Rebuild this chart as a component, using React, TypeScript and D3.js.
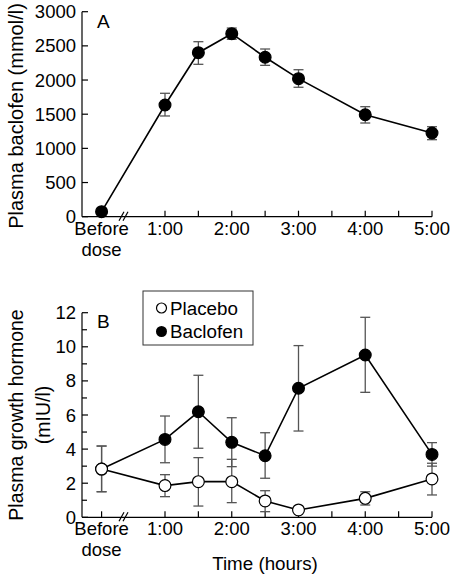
import React from "react";
import * as d3 from "d3";

// x positions in hours (Before dose placed just left of the break)
const timeLabels = ["Before\ndose", "1:00", "1:30", "2:00", "2:30", "3:00", "4:00", "5:00"];
const timeHours = [0.05, 1, 1.5, 2, 2.5, 3, 4, 5];
const xTickHours = [0.05, 1, 1.5, 2, 2.5, 3, 3.5, 4, 4.5, 5];
const xLabelHours = [1, 2, 3, 4, 5];
const xLabelText = ["1:00", "2:00", "3:00", "4:00", "5:00"];

// Panel A: plasma baclofen
const baclofenMean = [73, 1635, 2400, 2678, 2333, 2020, 1492, 1225];
const baclofenLow = [73, 1474, 2230, 2596, 2215, 1894, 1371, 1127];
const baclofenHigh = [73, 1806, 2561, 2761, 2454, 2151, 1610, 1317];
const yTicksA = [0, 500, 1000, 1500, 2000, 2500, 3000];

// Panel B: growth hormone
const ghBacMean = [2.83, 4.57, 6.19, 4.4, 3.61, 7.57, 9.52, 3.69];
const ghBacLow = [1.5, 3.2, 4.05, 2.97, 2.29, 5.06, 7.33, 3.0];
const ghBacHigh = [4.18, 5.94, 8.33, 5.84, 4.96, 10.07, 11.73, 4.38];
const ghPlaMean = [2.83, 1.86, 2.09, 2.09, 0.96, 0.43, 1.11, 2.25];
const ghPlaLow = [1.5, 1.21, 0.66, 0.86, 0.33, 0.43, 0.72, 1.31];
const ghPlaHigh = [4.18, 2.5, 3.5, 3.4, 1.56, 0.43, 1.5, 3.17];
const yTicksB = [0, 2, 4, 6, 8, 10, 12];
const yMinorB = [1, 3, 5, 7, 9, 11];

const FONT = "'Liberation Sans', Arial, sans-serif";
const ERR = "#555";

const x = d3.scaleLinear().domain([1, 5]).range([165, 432]);
const X0 = 82;
const yA = d3.scaleLinear().domain([0, 3000]).range([216.7, 11.7]);
const yB = d3.scaleLinear().domain([0, 12]).range([517.3, 312.7]);

function ErrorBars({ y, low, high }: { y: d3.ScaleLinear<number, number>; low: number[]; high: number[] }) {
  return (
    <g stroke={ERR} strokeWidth={1.3}>
      {timeHours.map((h, i) =>
        high[i] - low[i] > 0.0001 ? (
          <g key={i}>
            <line x1={x(h)} x2={x(h)} y1={y(low[i])} y2={y(high[i])} />
            <line x1={x(h) - 5} x2={x(h) + 5} y1={y(low[i])} y2={y(low[i])} />
            <line x1={x(h) - 5} x2={x(h) + 5} y1={y(high[i])} y2={y(high[i])} />
          </g>
        ) : null
      )}
    </g>
  );
}

function Series({ y, vals, filled }: { y: d3.ScaleLinear<number, number>; vals: number[]; filled: boolean }) {
  const line = d3
    .line<number>()
    .x((_, i) => x(timeHours[i]))
    .y((v) => y(v));
  return (
    <g>
      <path d={line(vals) || ""} fill="none" stroke="#000" strokeWidth={1.6} />
      {vals.map((v, i) => (
        <circle key={i} cx={x(timeHours[i])} cy={y(v)} r={5.9} fill={filled ? "#000" : "#fff"} stroke="#000" strokeWidth={1.2} />
      ))}
    </g>
  );
}

function Axes({ y, ticks, minor, y0 }: { y: d3.ScaleLinear<number, number>; ticks: number[]; minor: number[]; y0: number }) {
  const top = y.range()[1];
  return (
    <g stroke="#000" strokeWidth={1.2} fill="none">
      <line x1={X0} x2={X0} y1={top} y2={y0} />
      <line x1={X0} x2={x(5)} y1={y0} y2={y0} />
      {ticks.map((t) => (
        <line key={"t" + t} x1={X0} x2={X0 + 6} y1={y(t)} y2={y(t)} />
      ))}
      {minor.map((t) => (
        <line key={"m" + t} x1={X0} x2={X0 + 5} y1={y(t)} y2={y(t)} />
      ))}
      {xTickHours.map((h) => (
        <line key={"x" + h} x1={x(h)} x2={x(h)} y1={y0} y2={y0 - 6} />
      ))}
      <line x1={119} x2={124} y1={y0 + 4} y2={y0 - 5} />
      <line x1={123} x2={128} y1={y0 + 4} y2={y0 - 5} />
      <g stroke="none" fill="#000" fontFamily={FONT} fontSize={18.5}>
        {ticks.map((t) => (
          <text key={"l" + t} x={76} y={y(t)} textAnchor="end" dominantBaseline="central">
            {t}
          </text>
        ))}
        {xLabelHours.map((h, i) => (
          <text key={"xl" + h} x={x(h)} y={y0 + 18} textAnchor="middle">
            {xLabelText[i]}
          </text>
        ))}
        <text x={x(timeHours[0])} y={y0 + 18} textAnchor="middle">Before</text>
        <text x={x(timeHours[0])} y={y0 + 39} textAnchor="middle">dose</text>
      </g>
    </g>
  );
}

export default function App() {
  return (
    <svg width={452} height={575} style={{ position: "absolute", left: 0, top: 0, background: "#fff" }}>
      <rect width={452} height={575} fill="#fff" />
      {/* Panel A */}
      <Axes y={yA} ticks={yTicksA} minor={[]} y0={yA(0)} />
      <ErrorBars y={yA} low={baclofenLow} high={baclofenHigh} />
      <Series y={yA} vals={baclofenMean} filled={true} />
      <text x={97} y={28} fontFamily={FONT} fontSize={19}>A</text>
      <text transform="translate(16,116) rotate(-90)" textAnchor="middle" dominantBaseline="central" fontFamily={FONT} fontSize={20}>
        Plasma baclofen (mmol/l)
      </text>

      {/* Panel B */}
      <Axes y={yB} ticks={yTicksB} minor={yMinorB} y0={yB(0)} />
      <ErrorBars y={yB} low={ghBacLow} high={ghBacHigh} />
      <ErrorBars y={yB} low={ghPlaLow} high={ghPlaHigh} />
      <Series y={yB} vals={ghBacMean} filled={true} />
      <Series y={yB} vals={ghPlaMean} filled={false} />
      <text x={97} y={328} fontFamily={FONT} fontSize={19}>B</text>
      <text transform="translate(16,415) rotate(-90)" textAnchor="middle" dominantBaseline="central" fontFamily={FONT} fontSize={19.5}>
        Plasma growth hormone
      </text>
      <text transform="translate(43,415) rotate(-90)" textAnchor="middle" dominantBaseline="central" fontFamily={FONT} fontSize={19.5}>
        (mIU/l)
      </text>
      <text x={265} y={570} textAnchor="middle" fontFamily={FONT} fontSize={18.8}>Time (hours)</text>

      {/* Legend */}
      <rect x={143} y={291} width={110} height={54} fill="#fff" stroke="#333" strokeWidth={1} />
      <circle cx={161.5} cy={308} r={5} fill="#fff" stroke="#000" strokeWidth={1.2} />
      <circle cx={161.5} cy={331.5} r={5.5} fill="#000" />
      <text x={170} y={308} dominantBaseline="central" fontFamily={FONT} fontSize={18.8}>Placebo</text>
      <text x={170} y={331.5} dominantBaseline="central" fontFamily={FONT} fontSize={18.8}>Baclofen</text>
    </svg>
  );
}
